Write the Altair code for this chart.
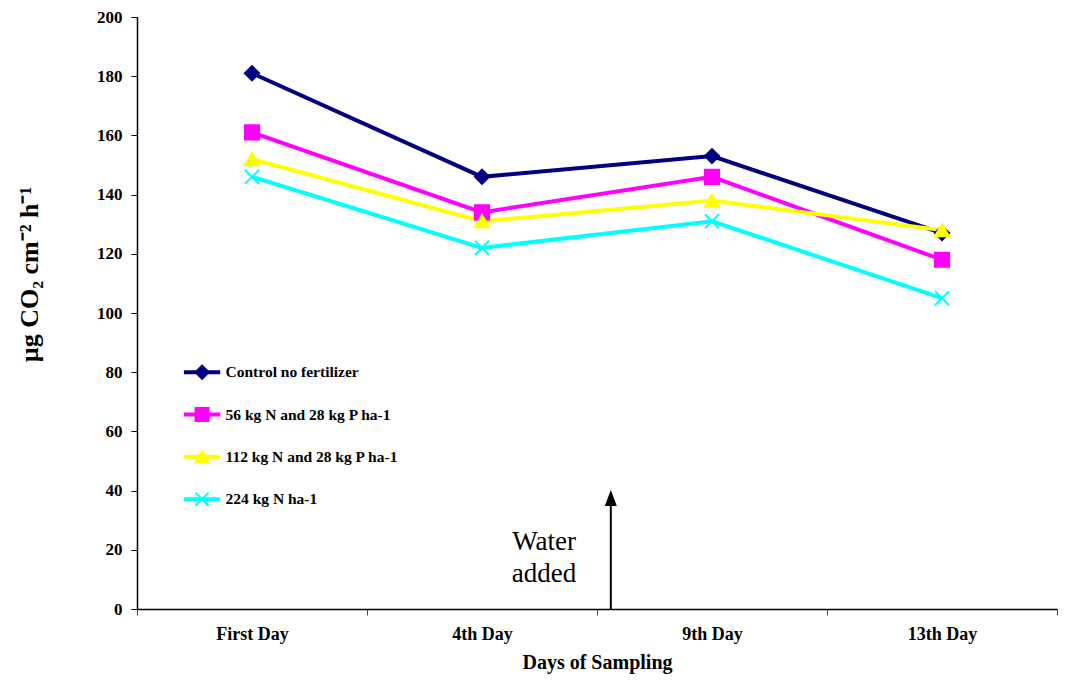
import altair as alt
import pandas as pd

days = ["First Day", "4th Day", "9th Day", "13th Day"]
series = [
    "Control no fertilizer",
    "56 kg N and 28 kg P ha-1",
    "112 kg N and 28 kg P ha-1",
    "224 kg N ha-1",
]
control = [181, 146, 153, 127]
n56 = [161, 134, 146, 118]
n112 = [152, 131, 138, 128]
n224 = [146, 122, 131, 105]
colors = ["#000080", "#FF00FF", "#FFFF00", "#00FFFF"]
shapes = ["diamond", "square", "triangle-up", "M-1,-1L1,1M-1,1L1,-1"]
y_ticks = [0, 20, 40, 60, 80, 100, 120, 140, 160, 180, 200]

FONT = "Liberation Serif"

rows = []
for s, vals in zip(series, [control, n56, n112, n224]):
    for d, v in zip(days, vals):
        rows.append({"series": s, "day": d, "value": v})
df = pd.DataFrame(rows)

color_scale = alt.Scale(domain=series, range=colors)
shape_scale = alt.Scale(domain=series, range=shapes)
y_scale = alt.Scale(domain=[0, 200], nice=False, zero=True)
xq_scale = alt.Scale(domain=[0.5, 4.5], nice=False, zero=False)
band_scale = alt.Scale(type="band", paddingInner=0, paddingOuter=0)

y_axis = alt.Axis(
    title="µg CO₂ cm⁻² h⁻¹",
    values=y_ticks,
    grid=False,
    labelFont=FONT,
    labelFontWeight="bold",
    labelFontSize=17,
    labelColor="black",
    labelPadding=9,
    tickSize=6,
    tickColor="black",
    domainColor="black",
    domainWidth=1.5,
    titleFont=FONT,
    titleFontWeight="bold",
    titleFontSize=26,
    titleColor="black",
    titlePadding=54,
    titleY=257,
)

x_band = alt.X(
    "day:N",
    sort=days,
    scale=band_scale,
    axis=alt.Axis(
        title="Days of Sampling",
        tickBand="extent",
        labelAngle=0,
        labelFont=FONT,
        labelFontWeight="bold",
        labelFontSize=18,
        labelColor="black",
        labelPadding=10,
        tickSize=6,
        tickColor="#444",
        domainColor="black",
        domainWidth=1.5,
        titleFont=FONT,
        titleFontWeight="bold",
        titleFontSize=20,
        titleColor="black",
        titlePadding=9,
    ),
)


def Y(field):
    return alt.Y(field, scale=y_scale, axis=y_axis)


lines = alt.Chart(df).mark_line(strokeWidth=4).encode(
    x=x_band,
    y=Y("value:Q"),
    color=alt.Color("series:N", scale=color_scale, legend=None),
    detail="series:N",
)

points = alt.Chart(df).mark_point(filled=False, strokeWidth=2, opacity=1).encode(
    x=alt.X("day:N", sort=days, scale=band_scale, axis=None),
    y=Y("value:Q"),
    color=alt.Color("series:N", scale=color_scale, legend=None),
    fill=alt.Fill("series:N", scale=color_scale, legend=None),
    shape=alt.Shape("series:N", scale=shape_scale, legend=None),
    size=alt.value(200),
)

# Legend inset (drawn as marks)
leg_df = pd.DataFrame({
    "series": series,
    "value": [80 - 14.3 * i for i in range(len(series))],
})
leg_df["x1"] = 0.704
leg_df["x2"] = 0.862
leg_df["xm"] = 0.783
leg_df["xt"] = 0.885

leg_base = alt.Chart(leg_df)
leg_lines = leg_base.mark_rule(strokeWidth=4).encode(
    x=alt.X("x1:Q", scale=xq_scale, axis=None),
    x2="x2:Q",
    y=Y("value:Q"),
    color=alt.Color("series:N", scale=color_scale, legend=None),
)
leg_pts = leg_base.mark_point(filled=False, strokeWidth=2, opacity=1).encode(
    x=alt.X("xm:Q", scale=xq_scale, axis=None),
    y=Y("value:Q"),
    color=alt.Color("series:N", scale=color_scale, legend=None),
    fill=alt.Fill("series:N", scale=color_scale, legend=None),
    shape=alt.Shape("series:N", scale=shape_scale, legend=None),
    size=alt.value(170),
)
leg_text = leg_base.mark_text(align="left", baseline="middle", font=FONT,
                              fontWeight="bold", fontSize=15.5, color="black").encode(
    x=alt.X("xt:Q", scale=xq_scale, axis=None),
    y=Y("value:Q"),
    text="series:N",
)

# Water added annotation
ann_df = pd.DataFrame({"ax": [2.56], "value": [0], "y1": [37.5], "tx": [2.27],
                       "ty": [22.5], "label": ["Water\nadded"]})
ann = alt.Chart(ann_df)
arrow_line = ann.mark_rule(strokeWidth=2, color="black").encode(
    x=alt.X("ax:Q", scale=xq_scale, axis=None),
    y=Y("value:Q"),
    y2="y1:Q",
)
arrow_head = ann.mark_point(filled=True, color="black", opacity=1,
                            shape="M0,-1L0.75,1L-0.75,1Z", size=256).encode(
    x=alt.X("ax:Q", scale=xq_scale, axis=None),
    y=alt.Y("y1:Q", scale=y_scale, axis=y_axis),
)
water_text = ann.mark_text(align="center", baseline="middle", font=FONT,
                           fontSize=27, color="black", lineBreak="\n",
                           lineHeight=32).encode(
    x=alt.X("tx:Q", scale=xq_scale, axis=None),
    y=alt.Y("ty:Q", scale=y_scale, axis=y_axis),
    text="label:N",
)

chart = alt.layer(
    lines, points, leg_lines, leg_pts, leg_text, arrow_line, arrow_head, water_text
).resolve_scale(x="independent").properties(
    width=1050, height=676,
    autosize=alt.AutoSizeParams(type="fit", contains="padding"),
    padding={"left": 8, "top": 0, "right": 0, "bottom": 12},
).configure_view(stroke=None).configure_axis(grid=False)

chart.save("out.html", embed_options={"renderer": "svg", "actions": False})
